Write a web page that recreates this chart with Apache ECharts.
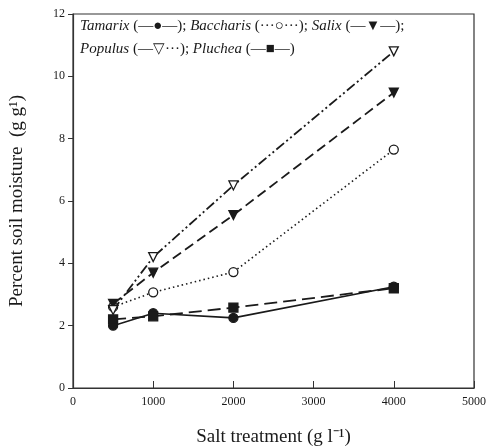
<!DOCTYPE html>
<html>
<head>
<meta charset="utf-8">
<script src="https://cdn.jsdelivr.net/npm/echarts@6/dist/echarts.min.js"></script>
<style>
	html, body { margin: 0; padding: 0; background: #fff; }
	#chart { width: 486px; height: 446px; }
</style>
</head>
<body>
<div id="chart"></div>
<script>
	// salt treatment (g l-1)
	var salt = [500, 1000, 2000, 4000];
	var tamarix = [2.0, 2.4, 2.25, 3.25];
	var baccharis = [2.6, 3.07, 3.72, 7.65];
	var salix = [2.7, 3.7, 5.55, 9.48];
	var populus = [2.5, 4.2, 6.5, 10.8];
	var pluchea = [2.2, 2.3, 2.58, 3.2];
	var xTicks = [0, 1000, 2000, 3000, 4000, 5000];
	var yTicks = [0, 2, 4, 6, 8, 10, 12];

	var chart = echarts.init(document.getElementById('chart'), null, { renderer: 'canvas' });
	var font = 'Liberation Serif';
	var ink = '#1a1a1a';

	function pairs(vals) {
		return vals.map(function(v, i) { return [salt[i], v]; });
	}
	function mk(name, vals, symbol, filled, dash, width) {
		return {
			name: name,
			type: 'line',
			data: pairs(vals),
			symbol: symbol,
			symbolSize: 9,
			symbolRotate: symbol === 'triangle' ? 180 : 0,
			showAllSymbol: true,
			itemStyle: {
				color: filled ? ink : '#fff',
				borderColor: ink,
				borderWidth: 1.3
			},
			lineStyle: { color: ink, width: width || 1.6, type: dash },
			z: 3
		};
	}

	var option = {
		animation: false,
		backgroundColor: '#fff',
		grid: {
			left: 73, right: 12, top: 14, bottom: 58,
			outerBoundsMode: 'none',
			show: true, borderColor: '#333', borderWidth: 1.2
		},
		xAxis: {
			type: 'value',
			min: 0, max: 5000, interval: 1000,
			name: 'Salt treatment (g l⁻¹)',
			nameLocation: 'middle',
			nameGap: 40,
			nameTextStyle: { fontFamily: font, fontSize: 19, color: ink },
			axisLine: { lineStyle: { color: '#333', width: 1.2 } },
			axisTick: { inside: true, length: 7, lineStyle: { color: '#333' } },
			axisLabel: {
				fontFamily: font, fontSize: 12, color: ink, margin: 8,
				formatter: function(v) { return xTicks.indexOf(v) >= 0 ? String(v) : ''; }
			},
			splitLine: { show: false }
		},
		yAxis: {
			type: 'value',
			min: 0, max: 12, interval: 2,
			name: 'Percent soil moisture  (g g¹)',
			nameLocation: 'middle',
			nameGap: 46,
			nameTextStyle: { fontFamily: font, fontSize: 19, color: ink },
			axisLine: { lineStyle: { color: '#333', width: 1.2 } },
			axisTick: { inside: false, length: 5, lineStyle: { color: '#333' } },
			axisLabel: {
				fontFamily: font, fontSize: 12, color: ink, margin: 8,
				formatter: function(v) { return yTicks.indexOf(v) >= 0 ? String(v) : ''; }
			},
			splitLine: { show: false }
		},
		graphic: [
			{
				type: 'text', left: 80, top: 19,
				style: {
					text: '{i|Tamarix} (—●—); {i|Baccharis} (···○···); {i|Salix} (—▼—);',
					fontFamily: font, fontSize: 15, fill: ink,
					rich: { i: { fontFamily: font, fontSize: 15, fontStyle: 'italic', fill: ink } }
				}
			},
			{
				type: 'text', left: 80, top: 42,
				style: {
					text: '{i|Populus} (—▽···); {i|Pluchea} (—■—)',
					fontFamily: font, fontSize: 15, fill: ink,
					rich: { i: { fontFamily: font, fontSize: 15, fontStyle: 'italic', fill: ink } }
				}
			}
		],
		series: [
			mk('Tamarix', tamarix, 'circle', true, 'solid', 1.6),
			mk('Baccharis', baccharis, 'circle', false, [1.5, 3], 1.6),
			mk('Salix', salix, 'triangle', true, [10, 5], 1.8),
			mk('Populus', populus, 'triangle', false, [10, 3, 2, 3, 2, 3], 1.8),
			mk('Pluchea', pluchea, 'rect', true, [13, 6], 1.8)
		]
	};

	chart.setOption(option);
</script>
</body>
</html>
